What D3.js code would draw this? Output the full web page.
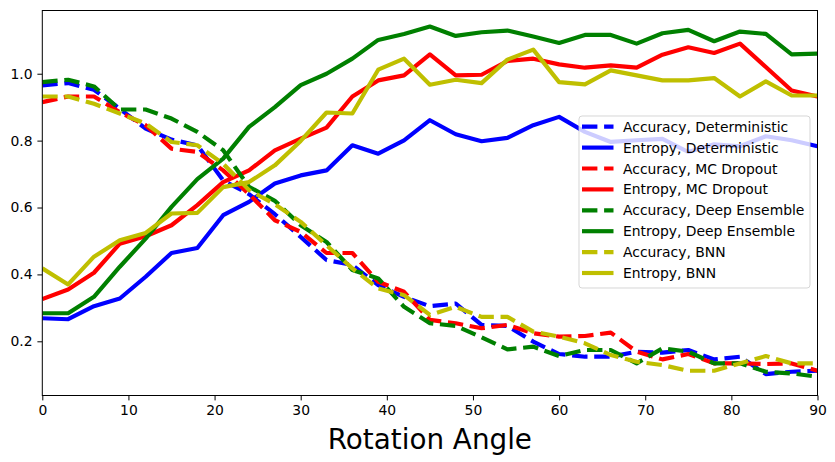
<!DOCTYPE html>
<html>
<head>
<meta charset="utf-8">
<script src="https://cdn.jsdelivr.net/npm/d3@7"></script>
<style>
    body { margin: 0; background: #fff; }
    #chart text { font-family: "DejaVu Sans", sans-serif; fill: #000; }
</style>
</head>
<body>
<div id="chart"></div>
<script>
'use strict';

// rotation angles, one point every 3 degrees
const angles = d3.range(0, 91, 3);

const accDeterministic = [0.965, 0.972, 0.952, 0.895, 0.836, 0.803, 0.786, 0.681, 0.64, 0.58, 0.512,
    0.443, 0.428, 0.368, 0.333, 0.305, 0.313, 0.249, 0.246, 0.199, 0.162,
    0.154, 0.154, 0.169, 0.166, 0.174, 0.146, 0.154, 0.102, 0.109, 0.112];
const entDeterministic = [0.269, 0.266, 0.305, 0.328, 0.393, 0.464, 0.479, 0.577, 0.617, 0.672, 0.696,
    0.711, 0.786, 0.761, 0.801, 0.861, 0.819, 0.798, 0.808, 0.846, 0.871,
    0.826, 0.796, 0.801, 0.805, 0.766, 0.789, 0.783, 0.813, 0.801, 0.783];
const accDropout = [0.915, 0.932, 0.932, 0.885, 0.846, 0.776, 0.766, 0.711, 0.64, 0.562, 0.527,
    0.464, 0.464, 0.378, 0.348, 0.264, 0.254, 0.239, 0.249, 0.224, 0.214,
    0.216, 0.226, 0.169, 0.146, 0.162, 0.134, 0.134, 0.132, 0.134, 0.112];
const entDropout = [0.326, 0.355, 0.405, 0.492, 0.514, 0.547, 0.607, 0.676, 0.711, 0.771, 0.806,
    0.839, 0.932, 0.98, 0.995, 1.058, 0.995, 0.997, 1.038, 1.045, 1.028,
    1.018, 1.025, 1.018, 1.057, 1.079, 1.062, 1.09, 1.02, 0.95, 0.932];
const accEnsemble = [0.975, 0.982, 0.962, 0.893, 0.893, 0.866, 0.826, 0.771, 0.662, 0.62, 0.547,
    0.497, 0.413, 0.388, 0.303, 0.254, 0.246, 0.212, 0.176, 0.184, 0.156,
    0.174, 0.174, 0.134, 0.179, 0.169, 0.134, 0.134, 0.109, 0.104, 0.094];
const entEnsemble = [0.284, 0.284, 0.333, 0.423, 0.507, 0.602, 0.685, 0.746, 0.841, 0.9, 0.966,
    1.0, 1.045, 1.101, 1.119, 1.141, 1.113, 1.124, 1.129, 1.111, 1.092,
    1.116, 1.116, 1.09, 1.121, 1.131, 1.097, 1.126, 1.119, 1.058, 1.06];
const accBnn = [0.932, 0.932, 0.91, 0.881, 0.851, 0.796, 0.786, 0.731, 0.652, 0.61, 0.557,
    0.487, 0.418, 0.358, 0.338, 0.279, 0.303, 0.273, 0.273, 0.229, 0.214,
    0.194, 0.159, 0.139, 0.129, 0.112, 0.112, 0.134, 0.156, 0.134, 0.134];
const entBnn = [0.418, 0.37, 0.453, 0.502, 0.524, 0.582, 0.584, 0.661, 0.676, 0.726, 0.799,
    0.884, 0.881, 1.012, 1.045, 0.967, 0.982, 0.972, 1.042, 1.072, 0.975,
    0.968, 1.01, 0.995, 0.98, 0.98, 0.987, 0.932, 0.977, 0.935, 0.935];

const xTicks = [0, 10, 20, 30, 40, 50, 60, 70, 80, 90];
const yTicks = [0.2, 0.4, 0.6, 0.8, 1.0];

const seriesNames = ['Accuracy, Deterministic', 'Entropy, Deterministic',
    'Accuracy, MC Dropout', 'Entropy, MC Dropout',
    'Accuracy, Deep Ensemble', 'Entropy, Deep Ensemble',
    'Accuracy, BNN', 'Entropy, BNN'];
const seriesValues = [accDeterministic, entDeterministic, accDropout, entDropout,
    accEnsemble, entEnsemble, accBnn, entBnn];

(function () {
    const width = 835;
    const height = 462;
    const margin = {top: 10.5, right: 17.5, bottom: 66.5, left: 42.3};
    const plotW = width - margin.left - margin.right;
    const plotH = height - margin.top - margin.bottom;

    var colors = ['#0000ff', '#0000ff', '#ff0000', '#ff0000', '#008000', '#008000', '#bfbf00', '#bfbf00'];
    var lineWidth = 4.17;
    var dash = '15.4,6.7';

    var svg = d3.select('#chart').append('svg')
        .attr('width', width)
        .attr('height', height);

    var x = d3.scaleLinear().domain([0, 90]).range([0, plotW]);
    var y = d3.scaleLinear().domain([0.038, 1.189]).range([plotH, 0]);

    var g = svg.append('g').attr('transform', 'translate(' + margin.left + ',' + margin.top + ')');

    svg.append('defs').append('clipPath').attr('id', 'plotClip')
        .append('rect').attr('width', plotW).attr('height', plotH);

    var line = d3.line()
        .x(function (d, i) { return x(angles[i]); })
        .y(function (d) { return y(d); });

    var linesGroup = g.append('g').attr('clip-path', 'url(#plotClip)');
    seriesValues.forEach(function (values, i) {
        var path = linesGroup.append('path')
            .datum(values)
            .attr('d', line)
            .attr('fill', 'none')
            .attr('stroke', colors[i])
            .attr('stroke-width', lineWidth)
            .attr('stroke-linejoin', 'round');
        //accuracy series are dashed
        if (i % 2 === 0) {
            path.attr('stroke-dasharray', dash);
        }
    });

    // axes
    var xAxis = g.append('g')
        .attr('transform', 'translate(0,' + plotH + ')')
        .call(d3.axisBottom(x).tickValues(xTicks).tickFormat(d3.format('d')).tickSize(4.9).tickPadding(4.9));
    var yAxis = g.append('g')
        .call(d3.axisLeft(y).tickValues(yTicks).tickFormat(d3.format('.1f')).tickSize(4.9).tickPadding(4.9));

    [xAxis, yAxis].forEach(function (ax) {
        ax.select('.domain').remove();
        ax.selectAll('line').attr('stroke', '#000').attr('stroke-width', 1);
        ax.selectAll('text').attr('font-size', '13.9px').attr('font-family', 'DejaVu Sans');
    });

    // frame
    g.append('rect')
        .attr('width', plotW)
        .attr('height', plotH)
        .attr('fill', 'none')
        .attr('stroke', '#000')
        .attr('stroke-width', 1);

    g.append('text')
        .attr('x', plotW / 2)
        .attr('y', plotH + 53)
        .attr('text-anchor', 'middle')
        .attr('font-size', '27.8px')
        .text('Rotation Angle');

    // legend
    var legend = svg.append('g').attr('transform', 'translate(579,116)');
    legend.append('rect')
        .attr('width', 231)
        .attr('height', 172)
        .attr('rx', 3)
        .attr('fill', '#fff')
        .attr('fill-opacity', 0.8)
        .attr('stroke', '#cccccc')
        .attr('stroke-opacity', 0.8);

    seriesNames.forEach(function (name, i) {
        var rowY = 10.7 + i * 20.9;
        var handle = legend.append('line')
            .attr('x1', 3)
            .attr('x2', 34.5)
            .attr('y1', rowY)
            .attr('y2', rowY)
            .attr('stroke', colors[i])
            .attr('stroke-width', lineWidth);
        if (i % 2 === 0) {
            handle.attr('stroke-dasharray', dash);
        }
        legend.append('text')
            .attr('x', 44)
            .attr('y', rowY + 5)
            .attr('font-size', '13.9px')
            .text(name);
    });
})();
</script>
</body>
</html>
